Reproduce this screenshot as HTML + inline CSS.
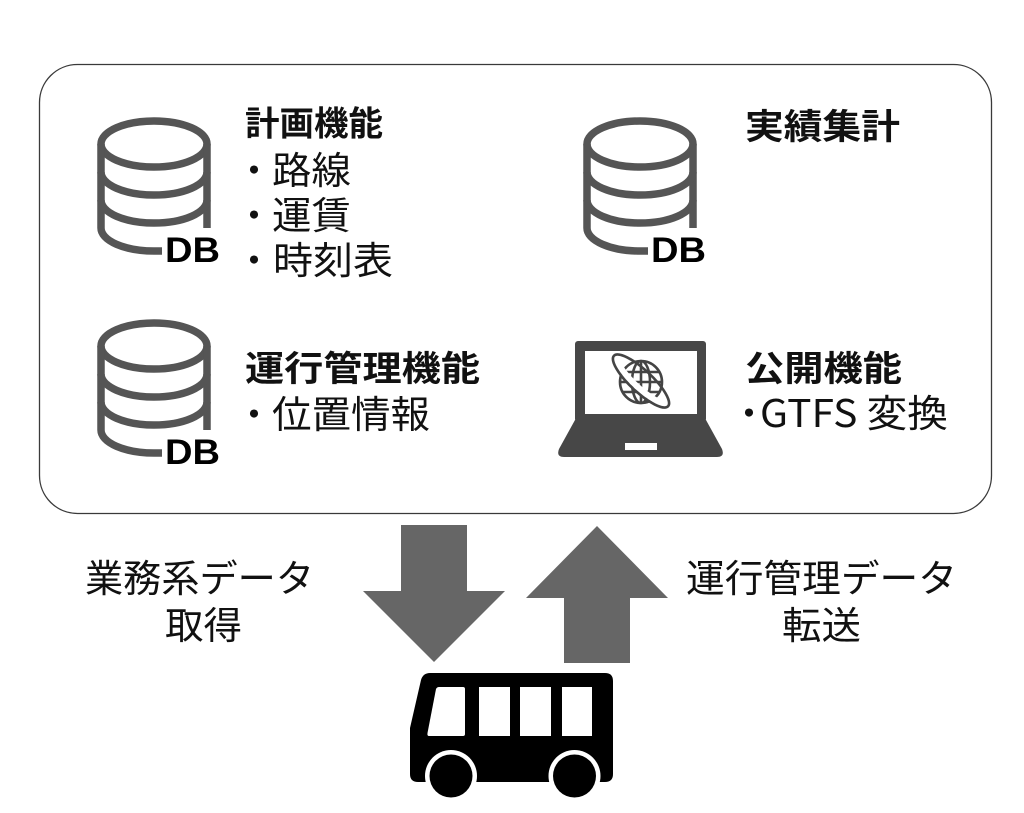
<!DOCTYPE html>
<html>
<head>
<meta charset="utf-8">
<style>
  html,body{margin:0;padding:0;background:#fff;}
  body{width:1024px;height:813px;overflow:hidden;}
  svg{display:block;}
  .b{font-family:"Liberation Sans","Noto Sans CJK JP",sans-serif;font-weight:700;fill:#111;}
  .r{font-family:"Liberation Sans","Noto Sans CJK JP",sans-serif;font-weight:400;fill:#111;}
  .j{font-family:"Noto Sans CJK JP",sans-serif;}
  .db{font-family:"Liberation Sans",sans-serif;font-weight:700;fill:#000;}
</style>
</head>
<body>
<svg width="1024" height="813" viewBox="0 0 1024 813" xmlns="http://www.w3.org/2000/svg">
  <defs>
    <g id="cyl" fill="none" stroke="#555" stroke-width="7.5" stroke-linecap="butt">
      <ellipse cx="154" cy="144" rx="53" ry="23"/>
      <path d="M101 144 V228"/>
      <path d="M207 144 V228"/>
      <path d="M101 172 A53 23 0 0 0 207 172"/>
      <path d="M101 200 A53 23 0 0 0 207 200"/>
      <path d="M101 228 A53 23 0 0 0 154 251 H162"/>
    </g>
  </defs>

  <!-- main rounded box -->
  <rect x="39.5" y="64.5" width="952" height="449" rx="38" ry="38" fill="#fff" stroke="#3a3a3a" stroke-width="1.3"/>

  <!-- DB icons -->
  <use href="#cyl"/>
  <text class="db" x="165" y="262" font-size="35" textLength="55" lengthAdjust="spacingAndGlyphs">DB</text>

  <g transform="translate(486,0)">
    <use href="#cyl"/>
    <text class="db" x="165" y="262" font-size="35" textLength="55" lengthAdjust="spacingAndGlyphs">DB</text>
  </g>

  <g transform="translate(0,202)">
    <use href="#cyl"/>
    <text class="db" x="165" y="262" font-size="35" textLength="55" lengthAdjust="spacingAndGlyphs">DB</text>
  </g>

  <!-- top-left texts -->
  <text class="b j" x="245" y="135.5" font-size="34" textLength="138" lengthAdjust="spacingAndGlyphs">計画機能</text>
  <text class="r j" x="254" y="184" font-size="38" text-anchor="middle">・</text>
  <text class="r j" x="272" y="184" font-size="38" textLength="79" lengthAdjust="spacingAndGlyphs">路線</text>
  <text class="r j" x="254" y="229" font-size="38" text-anchor="middle">・</text>
  <text class="r j" x="272" y="229" font-size="38" textLength="79" lengthAdjust="spacingAndGlyphs">運賃</text>
  <text class="r j" x="254" y="274" font-size="38" text-anchor="middle">・</text>
  <text class="r j" x="273" y="274" font-size="38" textLength="120" lengthAdjust="spacingAndGlyphs">時刻表</text>

  <!-- top-right -->
  <text class="b j" x="745" y="139" font-size="35" textLength="155" lengthAdjust="spacingAndGlyphs">実績集計</text>

  <!-- bottom-left -->
  <text class="b j" x="245" y="381" font-size="35" textLength="235" lengthAdjust="spacingAndGlyphs">運行管理機能</text>
  <text class="r j" x="254" y="428" font-size="38" text-anchor="middle">・</text>
  <text class="r j" x="272" y="428" font-size="38" textLength="158" lengthAdjust="spacingAndGlyphs">位置情報</text>

  <!-- laptop -->
  <rect x="575" y="341" width="131" height="81" rx="3" fill="#474747"/>
  <rect x="585" y="351" width="112" height="63" fill="#fff"/>
  <path d="M575 420 L706 420 L722 449 Q725 457 717 457 L564 457 Q556 457 559 449 Z" fill="#474747"/>
  <rect x="625" y="443" width="32" height="7" fill="#fff"/>
  <!-- globe -->
  <g fill="none" stroke="#444" stroke-width="2.6">
    <circle cx="641" cy="382" r="21"/>
    <ellipse cx="641" cy="382" rx="9" ry="21"/>
    <line x1="641" y1="361" x2="641" y2="403"/>
    <line x1="620" y1="382" x2="662" y2="382"/>
    <line x1="623" y1="372" x2="659" y2="372"/>
    <line x1="623" y1="392" x2="659" y2="392"/>
  </g>
  <path d="M616 358 A37 11 43 0 0 666 404" fill="none" stroke="#fff" stroke-width="6"/>
  <ellipse cx="641" cy="381" rx="37" ry="11" transform="rotate(43 641 381)" fill="none" stroke="#444" stroke-width="2.6" stroke-dasharray="0"/>

  <!-- bottom-right texts -->
  <text class="b j" x="745" y="381" font-size="35" textLength="157" lengthAdjust="spacingAndGlyphs">公開機能</text>
  <text class="r j" x="749" y="427" font-size="38" text-anchor="middle">・</text>
  <text class="r j" x="760" y="427" font-size="38" textLength="188" lengthAdjust="spacingAndGlyphs">GTFS 変換</text>

  <!-- arrows -->
  <polygon points="401,525 467,525 467,591 505,591 434,662 363,591 401,591" fill="#666"/>
  <polygon points="597,526 668,598 630,598 630,663 564,663 564,598 526,598" fill="#666"/>

  <!-- labels -->
  <text class="r j" x="85" y="592" font-size="38" textLength="229" lengthAdjust="spacingAndGlyphs">業務系データ</text>
  <text class="r j" x="165" y="639" font-size="38" textLength="77" lengthAdjust="spacingAndGlyphs">取得</text>
  <text class="r j" x="686" y="592" font-size="38" textLength="271" lengthAdjust="spacingAndGlyphs">運行管理データ</text>
  <text class="r j" x="782" y="639" font-size="38" textLength="79" lengthAdjust="spacingAndGlyphs">転送</text>

  <!-- bus -->
  <path d="M430 673 H605 Q613 673 613 681 V774 Q613 782 605 782 H418 Q410 782 410 774 V728 L421 680 Q423 673 430 673 Z" fill="#000"/>
  <path d="M439 687 H463 Q465 687 465 689 V734 Q465 736 463 736 H429 Q427 736 427.5 733 L436 689 Q437 687 439 687 Z" fill="#fff"/>
  <rect x="479" y="687" width="31" height="49" fill="#fff"/>
  <rect x="520" y="687" width="31" height="49" fill="#fff"/>
  <rect x="562" y="687" width="30" height="49" fill="#fff"/>
  <circle cx="451" cy="776" r="26" fill="#fff"/>
  <circle cx="574.5" cy="776" r="26" fill="#fff"/>
  <circle cx="451" cy="776" r="21.5" fill="#000"/>
  <circle cx="574.5" cy="776" r="21.5" fill="#000"/>
</svg>
</body>
</html>
